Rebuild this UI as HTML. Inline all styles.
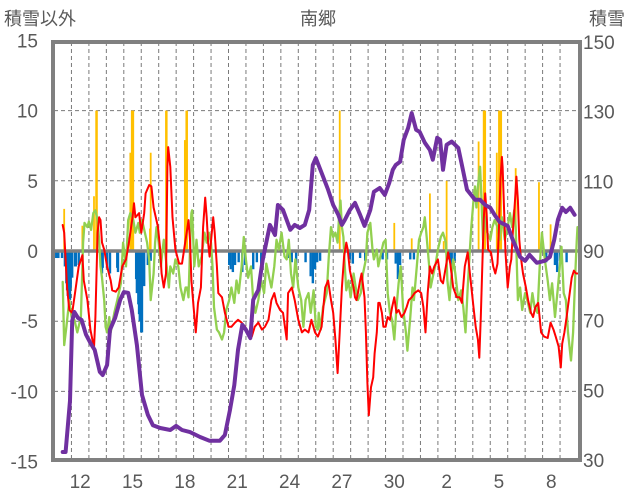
<!DOCTYPE html>
<html><head><meta charset="utf-8">
<style>
html,body{margin:0;padding:0;background:#fff;}
svg{display:block;font-family:"Liberation Sans","Noto Sans CJK JP",sans-serif;}
</style></head>
<body>
<svg id="chart" width="636" height="501" viewBox="0 0 636 501" xmlns="http://www.w3.org/2000/svg">
<text x="4" y="25" font-size="18" fill="#595959">積雪以外</text>
<text x="318" y="25" font-size="18" fill="#595959" text-anchor="middle">南郷</text>
<text x="589" y="25" font-size="18" fill="#595959">積雪</text>
<g id="grid"></g>
<g id="bars"></g>
<g id="lines"></g>
<g id="axes"></g>
</svg>
<script>
const days = ['11','12','13','14','15','16','17','18','19','20','21','22','23','24','25','26','27','28','29','30','31','1','2','3','4','5','6','7','8','9'];
const leftTicks = [15,10,5,0,-5,-10,-15];
const rightTicks = [150,130,110,90,70,50,30];

const redH = [12,14,18,21,25,30,34,39,41,46,50,55,57,60,62,64,66,69,73,78,80,85,89,94,99,103,108,110,112,117,120,124,126,131,134,137,140,143,146,148,151,154,156,157,160,163,167,172,176,181,185,187,189,192,195,198,202,205,208,210,212,214,219,221,224,226,231,235,240,244,249,253,258,263,267,272,276,281,286,290,295,299,303,306,311,315,320,322,327,331,336,341,345,350,354,359,363,368,373,377,381,384,387,390,393,396,399,402,404,407,412,414,416,418,421,423,427,429,431,433,436,439,441,444,446,448,451,453,456,459,462,465,468,471,474,478,482,485,488,492,496,501,505,508,511,514,517,520,523,528,532,535,539,542,545,549,554,558,561,565,569,572,577,580,583,585,587,589,591,593,595,597,601,604,607,610,612,614,616,617,619,621,624,627,629,631,634,636,638,640,642,645,649,652,656,659,662,666,670,674,679,683,687,690,694,697,699,702,705,708,712,715,718,720];
const redV = [1.85,1.3,-2.6,-4.2,-4.4,-2.6,-1.1,-0.3,-2.1,-3.5,-5.6,-6.9,-4.7,1.3,2.4,2.2,0.6,0.1,-1.1,-2.1,-2.8,-2.9,-2.6,-1.1,-0.6,0.6,2.4,3.4,2.4,2.7,1.3,2.7,4.1,4.7,4.6,3.1,2.4,1.7,0.1,-1.6,-2.6,-1.6,6.0,7.4,6.0,2.4,0.1,-0.9,-0.9,0.8,2.2,0.8,-2.1,-4.0,-5.8,-3.7,-2.6,1.7,3.8,2.4,0.6,-0.4,2.4,1.3,-1.1,-3.0,-3.3,-4.4,-5.4,-5.4,-5.1,-4.9,-5.1,-5.4,-5.8,-6.1,-5.4,-5.1,-5.6,-5.4,-4.9,-3.5,-3.0,-3.7,-4.2,-4.4,-6.3,-3.0,-2.6,-3.5,-4.9,-5.8,-5.6,-5.8,-4.9,-5.8,-6.1,-5.4,-2.6,-2.1,-3.5,-4.4,-6.3,-8.7,-5.8,-2.6,-0.4,0.6,0.1,-1.4,-2.6,-3.3,-3.5,-3.0,-2.1,-1.6,-3.3,-5.8,-9.4,-11.7,-9.7,-9.0,-7.3,-5.8,-3.7,-3.7,-4.4,-5.4,-5.4,-4.7,-4.9,-4.0,-3.3,-4.4,-4.2,-4.7,-4.4,-4.0,-3.5,-3.3,-3.0,-2.8,-3.0,-4.0,-5.8,-3.0,-1.1,-1.6,-1.1,-0.6,-2.1,-2.3,-1.1,-0.1,-0.9,-2.6,-3.3,-3.3,-3.7,-1.1,-0.1,-1.6,-4.0,-5.4,-6.3,-7.6,-4.7,-1.1,2.2,4.1,2.7,0.1,-0.1,-1.1,-1.6,-0.9,1.7,5.1,6.7,6.0,2.9,-0.1,-2.6,-1.1,-0.6,1.3,3.6,5.3,3.6,0.8,-0.4,-1.6,-2.6,-3.5,-4.4,-4.7,-4.0,-3.7,-5.8,-6.1,-6.2,-5.1,-5.6,-6.1,-6.8,-8.3,-6.6,-5.8,-4.7,-3.5,-1.9,-1.4,-1.6,-1.6];

const greenH = [12,14,17,21,24,28,32,37,40,42,46,48,51,54,57,60,62,64,66,69,71,73,76,78,83,87,92,95,99,102,105,109,112,116,118,121,125,128,131,133,137,139,141,144,147,149,151,155,158,160,164,167,171,174,178,181,183,185,188,189,190,193,196,199,203,207,210,213,216,218,220,224,227,231,234,237,241,244,248,251,254,258,261,264,267,271,274,277,281,285,289,292,296,299,303,306,309,313,317,320,323,326,329,332,336,340,343,346,350,353,357,360,363,364,367,370,375,378,381,384,387,390,392,394,396,398,400,402,405,408,412,415,418,422,425,429,431,435,438,440,444,446,450,453,456,459,462,465,468,471,474,477,480,484,486,490,493,495,499,502,505,508,510,512,516,518,522,525,528,532,535,539,541,544,546,549,552,556,560,563,566,569,572,574,577,579,581,583,586,588,590,593,596,600,603,606,610,613,616,620,624,627,630,633,635,638,641,644,648,651,655,658,661,665,668,671,675,679,682,685,689,693,696,698,701,704,707,711,714,717,719,720];
const greenV = [-2.2,-6.7,-5.4,-3.5,-4.7,-4.9,-5.8,-4.7,0.6,2.0,1.7,2.1,1.5,2.7,2.9,2.2,0.8,-1.1,-1.9,-3.5,-5.4,-5.8,-4.7,-5.8,-4.4,-3.5,-2.3,0.6,-1.1,2.2,2.7,2.2,1.3,2.0,1.3,2.2,1.3,0.6,-0.6,-3.5,-1.6,0.6,1.7,0.6,-1.1,-0.1,0.8,-1.1,-2.6,-1.1,-1.6,-0.6,-1.1,-2.6,-3.5,-2.6,-2.6,-3.3,1.7,2.7,2.9,-1.1,0.8,-1.1,-0.4,1.3,0.6,1.3,0.6,-1.1,-4.0,-5.6,-5.8,-6.3,-5.8,-4.2,-3.5,-2.6,-3.7,-2.1,-3.0,-1.1,1.0,-0.6,-1.9,-1.1,-3.5,-4.4,-3.5,-2.1,-3.0,-0.9,-1.9,-2.6,-1.1,0.8,0.1,1.3,-0.4,-0.6,0.8,-1.6,-2.6,-0.6,-2.6,-3.5,-5.4,-3.5,-3.0,-4.4,-2.8,-5.4,-5.6,-4.4,-5.6,-4.0,-3.0,-0.4,1.7,1.0,1.3,0.6,2.4,3.6,1.7,1.0,-1.1,-2.8,-2.1,-3.3,-1.6,-2.6,-3.5,-3.0,-1.6,-0.6,1.3,2.0,0.1,-0.6,0.1,-1.1,-0.1,0.6,0.8,-3.0,-4.4,-4.9,-6.3,-4.0,-2.3,-1.1,-4.0,-5.8,-7.1,-4.7,-2.6,-3.5,-1.1,0.8,1.3,1.7,2.4,1.3,-1.1,-2.6,-1.6,-0.9,0.1,1.0,1.3,0.6,-2.1,-3.5,-2.1,-0.6,-1.6,-3.5,-2.8,-4.0,-5.8,-2.6,0.1,1.7,3.6,4.6,3.1,4.6,6.0,3.6,0.8,2.4,1.3,0.8,1.7,2.2,1.7,0.8,2.4,0.8,1.7,2.7,1.7,2.9,1.7,-3.5,-2.6,-4.2,-3.0,-3.5,-4.4,-3.0,-4.0,-4.4,-1.1,1.3,-0.6,-2.1,-3.5,-2.3,-4.7,-2.6,-0.9,0.3,-3.0,-3.5,-5.8,-7.8,-5.8,-1.6,0.8,1.7];

const snowH = [12,16,22,25,28,33,38,44,50,56,63,67,73,77,84,91,96,102,107,114,121,129,136,146,160,168,176,187,201,214,228,235,242,248,253,259,264,270,274,281,287,297,304,308,315,325,331,338,345,351,356,360,369,377,384,391,396,400,407,414,421,427,435,440,448,455,461,466,470,476,481,487,492,498,503,510,517,521,527,531,535,540,547,556,561,568,579,586,593,600,606,613,624,631,641,648,654,664,675,682,688,693,699,704,710,716];
const snowV = [32.3,32.3,47,70,72.5,70.8,70.2,66,63.6,61.6,55.3,54.4,57.3,67.4,70.8,76,78.2,78,73,63,48.7,43,40,39.2,38.6,39.8,38.6,38,36.6,35.5,35.5,37.2,44.4,51.5,61.6,68.8,67.4,65,76,78.8,87.4,97.5,94.6,103.2,101.8,96.1,97.5,96.6,97.5,101.8,114.7,116.7,111.9,107.6,103.2,100.4,97.5,98.9,101.8,103.8,100.4,97.2,101.8,107,108.1,106.1,109.5,113.3,114.7,115.6,121.9,125.3,129.6,124.8,124.2,121.1,119,116.2,122.5,121.9,113.3,120.5,121.4,119.6,114.7,107.6,104.7,104.7,103.2,102.4,100.4,98.3,97.2,93.2,88.3,87.2,88.9,86.6,87.2,88.3,93.2,99,102.4,101.2,102.4,100.4];

const yellowH = [14,39,55,58,59,105,107,109,132,133,154,155,180,182,183,393,468,492,517,536,540,584,591,593,609,612,613,615,635,667,683];
const yellowV = [3.0,1.8,3.9,10,10,7.0,10,10,1.6,7.0,10,10,7.9,10,10,10,2.0,0.9,4.1,0.7,5.0,7.8,10,10,7.0,10,10,10,5.9,4.9,1.9];

const blueH = [1,4,6,11,15,17,18,19,21,22,23,25,29,30,34,66,67,73,77,87,88,113,114,116,117,118,120,121,124,129,133,241,243,246,249,254,259,263,274,279,285,289,323,327,333,346,353,356,359,362,366,407,411,421,428,452,458,470,473,476,490,495,543,545,547,551,677,689,692,696,705];
const blueV = [-0.5,-0.5,-0.5,-0.5,-1.1,-2.3,-2.8,-3.2,-3.5,-3.5,-2.6,-1.9,-1.1,-1.1,-1.0,-1.6,-1.2,-1.2,-1.6,-1.2,-1.5,-2.0,-3.0,-3.8,-4.5,-5.0,-5.8,-5.8,-2.5,-1.0,-0.7,-1.0,-1.3,-1.5,-1.0,-0.8,-1.5,-1.0,-1.3,-0.8,-1.0,-0.5,-0.5,-0.8,-1.0,-0.8,-1.8,-2.3,-1.3,-0.8,-0.7,-0.6,-0.9,-0.5,-0.7,-0.6,-0.6,-0.9,-2.0,-1.0,-0.6,-0.6,-0.6,-0.8,-2.0,-0.7,-0.8,-1.0,-1.5,-0.7,-0.8];

const NS='http://www.w3.org/2000/svg';
const X0=54, DAYW=17.45;
function xH(h){return X0 + h/24*DAYW;}
function xDay(i){return X0 + i*DAYW;}
function yL(v){return 251 - v*14.04;}
function yR(v){return 460 - (v-30)*3.4833;}
function mk(tag,attrs,parent){const e=document.createElementNS(NS,tag);for(const k in attrs)e.setAttribute(k,attrs[k]);parent.appendChild(e);return e;}

const grid=document.getElementById('grid');
for(let i=1;i<days.length;i++){
  const l=mk('line',{x1:xDay(i),x2:xDay(i),y1:42,y2:460,stroke:'#7a7a7a','stroke-width':1,'stroke-dasharray':'4,3'},grid);
  
  
}
leftTicks.forEach(v=>{
  if(v===15||v===-15||v===0)return;
  const l=mk('line',{x1:54,x2:579,y1:yL(v),y2:yL(v),stroke:'#7a7a7a','stroke-width':1,'stroke-dasharray':'4,3'},grid);
  
  
});

const bars=document.getElementById('bars');
yellowH.forEach((h,i)=>{
  const v=yellowV[i];
  const r=mk('rect',{x:xH(h)-0.9,y:yL(v),width:1.8,height:yL(0)-yL(v),fill:'#FFC000'},bars);
  
  
});
blueH.forEach((h,i)=>{
  const v=blueV[i];
  const r=mk('rect',{x:xH(h)-1.2,y:yL(0),width:2.4,height:yL(v)-yL(0),fill:'#0070C0'},bars);
  
  
});
const zl=mk('line',{x1:54,x2:579,y1:yL(0),y2:yL(0),stroke:'#808080','stroke-width':3.5},bars);



const lines=document.getElementById('lines');
function poly(H,V,yf,color,w,name){
  const pts=H.map((h,i)=>xH(h).toFixed(1)+','+yf(V[i]).toFixed(1)).join(' ');
  const p=mk('polyline',{points:pts,fill:'none',stroke:color,'stroke-width':w,'stroke-linejoin':'round','stroke-linecap':'round'},lines);
  
  
}
poly(greenH,greenV,yL,'#92D050',2.3,'green-series-line');
poly(redH,redV,yL,'#FF0000',2,'red-series-line');
poly(snowH,snowV,yR,'#7030A0',4,'snow-depth-line');

const axes=document.getElementById('axes');
const frame=mk('rect',{x:53,y:42,width:527,height:418,fill:'none',stroke:'#808080','stroke-width':4},axes);


leftTicks.forEach(v=>{
  const t=mk('text',{x:38,y:yL(v)+7,'font-size':19,fill:'#595959','text-anchor':'end'},axes);
  t.textContent=String(v);
  
  
});
rightTicks.forEach(v=>{
  const t=mk('text',{x:583,y:yR(v)+7,'font-size':19,fill:'#595959'},axes);
  t.textContent=String(v);
  
  
});
days.forEach((d,i)=>{
  if(i%3!==1)return;
  const t=mk('text',{x:xDay(i)+DAYW/2,y:488,'font-size':19,fill:'#595959','text-anchor':'middle'},axes);
  t.textContent=d;
  
  
});
</script>
</body></html>
